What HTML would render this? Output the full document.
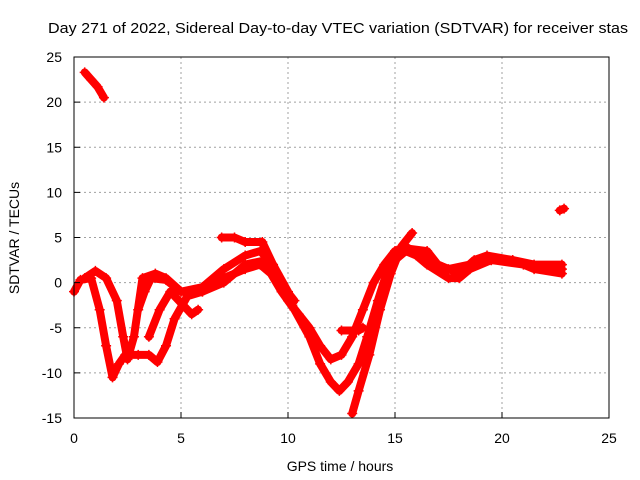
<!DOCTYPE html>
<html><head><meta charset="utf-8"><style>
body{margin:0;background:#fff;}
svg{display:block;font-family:"Liberation Sans",sans-serif;}
</style></head><body>
<svg id="chart" width="640" height="480">
<text x="48" y="33" font-size="15" textLength="580" lengthAdjust="spacingAndGlyphs">Day 271 of 2022, Sidereal Day-to-day VTEC variation (SDTVAR) for receiver stas</text>
<g id="grid"></g><g id="marks"></g><g id="axes"></g>
<text x="340" y="471" font-size="14" text-anchor="middle">GPS time / hours</text>
<text transform="translate(19,238) rotate(-90)" font-size="14" text-anchor="middle">SDTVAR / TECUs</text>
</svg>
<script>
const xTicks=[0,5,10,15,20,25];
const yTicks=[-15,-10,-5,0,5,10,15,20,25];
const s1=[[0,-1],[0.3,0.3],[0.8,0.5],[1.2,-3],[1.5,-7],[1.8,-10.5],[2.1,-9],[2.4,-8],[3,-8],[3.5,-8],[3.9,-8.8],[4.3,-7],[4.7,-4],[5.3,-1.5],[6,-1],[7,0.5],[8,1.5],[8.7,2],[9.2,1],[9.7,-1],[10.3,-3],[11,-6],[11.5,-9],[12,-11],[12.4,-12],[12.8,-11],[13.3,-9],[13.7,-6],[14.2,-2],[14.6,1],[15,2.5],[15.5,3.5],[16,3],[16.5,2],[17.5,0.5],[18,0.5],[18.5,1.5],[19.5,2.5],[20.5,2.5],[21.5,1.5],[22.8,1]];
const s2=[[0.5,0.5],[1,1.3],[1.5,0.5],[2,-2],[2.3,-6],[2.5,-8.5],[2.8,-6],[3.2,0.5],[3.8,1],[4.3,0.5],[5,-1],[6,-1],[7,0],[8,2],[9,2.5],[9.5,1],[10,-2],[10.5,-3.5],[11,-5],[11.5,-7],[12,-8.5],[12.5,-8],[13,-6],[13.5,-3],[14,0],[14.5,2],[15,3.5],[15.5,4],[16.5,2.5],[17.5,1.5],[18.5,2],[19.5,2.5],[21,2],[22.8,1.5]];
const s3=[[3,-3],[3.3,-1],[3.6,0.5],[4.3,0.3],[5,-1],[6,-0.5],[7,1.5],[8,3],[8.7,3.5],[9.3,2],[10,-1],[10.2,-2.5]];
const s4=[[3.5,-6],[4,-3],[4.5,-1],[5.5,-3.5],[5.8,-3]];
const s5=[[6.9,5],[7.5,5],[8,4.5],[8.8,4.5],[9.3,2],[9.8,-0.5],[10.3,-2]];
const s6=[[0.5,23.3],[0.8,22.5],[1.1,21.7],[1.4,20.5]];
const s7=[[22.7,8],[22.9,8.2]];
const s8=[[12.5,-5.3],[13.3,-5.3],[13.5,-5]];
const s9=[[13,-14.5],[13.3,-12],[13.8,-8],[14.3,-3],[14.8,1],[15.3,4],[15.8,5.5]];
const s10=[[15.5,3.8],[16.5,3.5],[17,2],[18,1],[18.7,2.5],[19.3,3],[20.5,2.5],[21.5,2],[22.8,2]];
const series=[s1,s2,s3,s4,s5,s6,s7,s8,s9,s10];
const X0=74,X1=609,Y0=418,Y1=57;
const xs=v=>X0+(v-0)/25*(X1-X0);
const ys=v=>Y0-(v+15)/40*(Y0-Y1);
const NS="http://www.w3.org/2000/svg";
function mk(t,a,p){const e=document.createElementNS(NS,t);for(const k in a)e.setAttribute(k,a[k]);p.appendChild(e);return e;}
const grid=document.getElementById('grid'),axes=document.getElementById('axes'),marks=document.getElementById('marks');
xTicks.forEach(t=>{const x=xs(t);
 if(t>0&&t<25){const g=mk('line',{x1:x,x2:x,y1:Y1,y2:Y0,stroke:'#a0a0a0','stroke-dasharray':'2,3'},grid);}
 mk('line',{x1:x,x2:x,y1:Y0,y2:Y0-6,stroke:'#000'},axes);
 const tx=mk('text',{x:x,y:Y0+25,'font-size':14,'text-anchor':'middle'},axes);tx.textContent=t;
 
 });
yTicks.forEach(t=>{const y=ys(t);
 if(t>-15&&t<25){const g=mk('line',{x1:X0,x2:X1,y1:y,y2:y,stroke:'#a0a0a0','stroke-dasharray':'2,3'},grid);}
 mk('line',{x1:X0,x2:X0+6,y1:y,y2:y,stroke:'#000'},axes);
 const tx=mk('text',{x:X0-12,y:y+5,'font-size':14,'text-anchor':'end'},axes);tx.textContent=t;
 
 });
const fr=mk('rect',{x:X0,y:Y1,width:X1-X0,height:Y0-Y1,fill:'none',stroke:'#000'},axes);


series.forEach((s,i)=>{
 const pl=mk('polyline',{points:s.map(p=>xs(p[0])+','+ys(p[1])).join(' '),fill:'none',stroke:'#f00','stroke-width':8,'stroke-linejoin':'round','stroke-linecap':'round'},marks);
 
 
 s.forEach(p=>{const x=xs(p[0]),y=ys(p[1]);
  const m=mk('path',{d:`M${x-5},${y}H${x+5}M${x},${y-5}V${y+5}`,stroke:'#f00','stroke-width':1.5},marks);
  
  });
});
</script>
</body></html>
